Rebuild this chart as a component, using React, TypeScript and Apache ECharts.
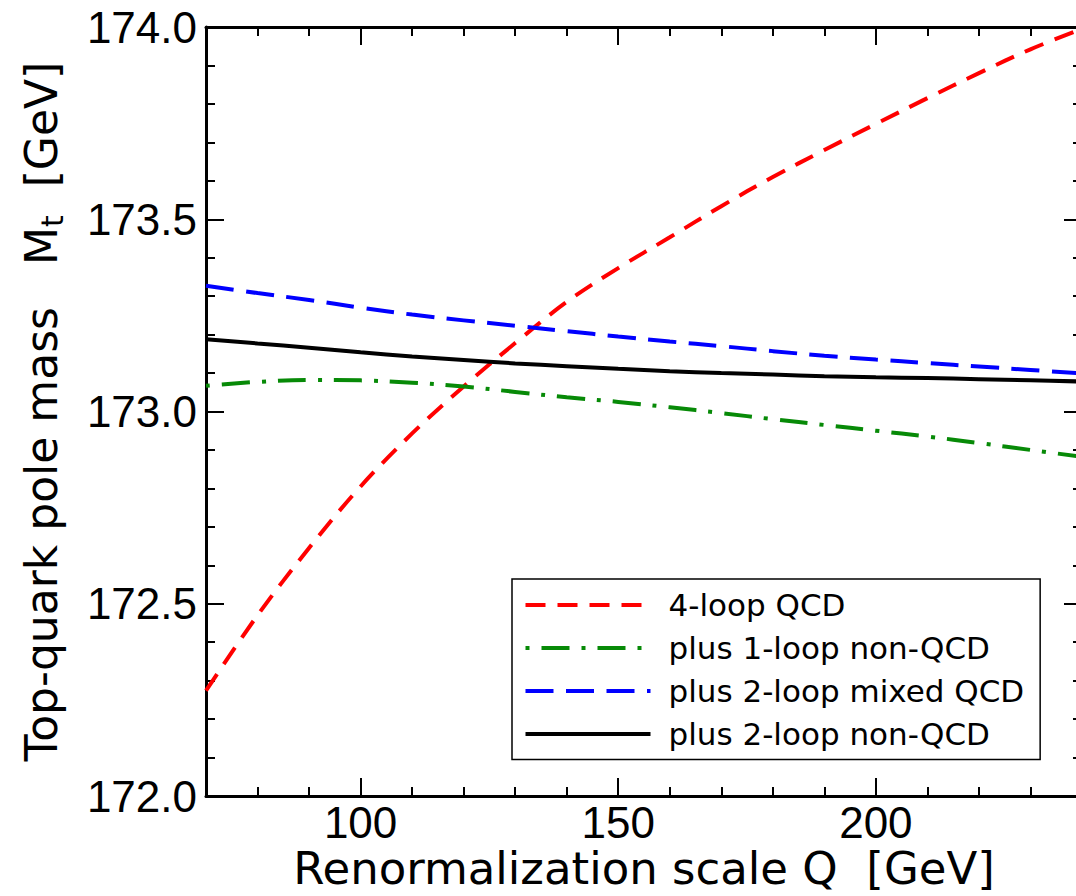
import React, { useEffect, useRef } from "react";
import * as echarts from "echarts";

// Renormalization scale Q [GeV]
const scaleQ = [70, 80, 90, 100, 110, 120, 130, 140, 150, 160, 170, 180, 190, 200, 210, 220, 230, 240];

// Top-quark pole mass M_t [GeV]
const fourLoopQCD = [172.274, 172.47, 172.645, 172.805, 172.943, 173.065, 173.178, 173.285, 173.373, 173.453, 173.534, 173.61, 173.68, 173.748, 173.815, 173.88, 173.942, 173.995];
const plus1LoopNonQCD = [173.067, 173.077, 173.082, 173.081, 173.075, 173.065, 173.051, 173.037, 173.025, 173.011, 172.996, 172.98, 172.965, 172.95, 172.935, 172.918, 172.9, 172.882];
const plus2LoopMixedQCD = [173.327, 173.308, 173.29, 173.27, 173.252, 173.237, 173.223, 173.209, 173.195, 173.182, 173.17, 173.157, 173.145, 173.135, 173.126, 173.117, 173.108, 173.099];
const plus2LoopNonQCD = [173.188, 173.177, 173.166, 173.154, 173.143, 173.134, 173.125, 173.118, 173.111, 173.105, 173.1, 173.096, 173.092, 173.089, 173.087, 173.084, 173.081, 173.078];

const seriesNames = ["4-loop QCD", "plus 1-loop non-QCD", "plus 2-loop mixed QCD", "plus 2-loop non-QCD"];
const majorQTicks = [100, 150, 200];

const TICK_FONT = "'Liberation Sans', Arial, Helvetica, sans-serif";
const TITLE_FONT = "'DejaVu Sans', sans-serif";

export default function App() {
  const ref = useRef<HTMLDivElement>(null);

  useEffect(() => {
    if (!ref.current) return;
    const chart = echarts.init(ref.current, null, { renderer: "svg" });

    const axisLine = { show: true, onZero: false, lineStyle: { color: "#000", width: 3 } };
    const minorX = (position: "bottom" | "top", extra: any = {}) => ({
      type: "value",
      position,
      min: 70,
      max: 240,
      interval: 10,
      axisLine,
      axisTick: { show: true, inside: true, length: 9, lineStyle: { color: "#000", width: 2 } },
      axisLabel: { show: false },
      splitLine: { show: false },
      ...extra,
    });
    const majorX = (position: "bottom" | "top", showLabel: boolean) => ({
      type: "value",
      position,
      min: 70,
      max: 240,
      axisLine: { show: false },
      axisTick: {
        show: true,
        inside: true,
        length: 18,
        customValues: majorQTicks,
        lineStyle: { color: "#000", width: 2 },
      },
      axisLabel: {
        show: showLabel,
        customValues: majorQTicks,
        fontSize: 44,
        fontFamily: TICK_FONT,
        color: "#000",
        margin: 4,
      },
      splitLine: { show: false },
    });
    const yAx = (position: "left" | "right", extra: any = {}) => ({
      type: "value",
      position,
      min: 172,
      max: 174,
      interval: 0.5,
      axisLine,
      axisTick: { show: true, inside: true, length: 18, lineStyle: { color: "#000", width: 2 } },
      minorTick: { show: true, splitNumber: 5, length: 9, lineStyle: { color: "#000", width: 2 } },
      axisLabel: { show: false },
      splitLine: { show: false },
      minorSplitLine: { show: false },
      ...extra,
    });

    const mk = (name: string, vals: number[], color: string, dash: any) => ({
      name,
      type: "line",
      xAxisIndex: 0,
      yAxisIndex: 0,
      data: scaleQ.map((q, i) => [q, vals[i]]),
      symbol: "none",
      showSymbol: false,
      smooth: 0.35,
      color,
      itemStyle: { color },
      lineStyle: { color, width: 4, type: dash },
    });

    chart.setOption({
      animation: false,
      backgroundColor: "#fff",
      grid: { left: 206, right: 2, top: 27, bottom: 100, containLabel: false },
      xAxis: [
        minorX("bottom", {
          name: "Renormalization scale Q  [GeV]",
          nameLocation: "middle",
          nameGap: 50,
          nameTextStyle: { fontSize: 45, fontFamily: TITLE_FONT, color: "#000" },
        }),
        majorX("bottom", true),
        minorX("top"),
        majorX("top", false),
      ],
      yAxis: [
        yAx("left", {
          axisLabel: {
            show: true,
            fontSize: 44,
            fontFamily: TICK_FONT,
            color: "#000",
            margin: 9,
            formatter: (v: number) => v.toFixed(1),
          },
          name: "{a|Top-quark pole mass   M}{b|t}{a|  [GeV]}",
          nameLocation: "middle",
          nameRotate: 90,
          nameGap: 142,
          nameTextStyle: {
            rich: {
              a: { fontSize: 44, lineHeight: 46, fontFamily: TITLE_FONT, color: "#000" },
              b: { fontSize: 30, lineHeight: 30, padding: [22, 0, 0, 0], fontFamily: TITLE_FONT, color: "#000" },
            },
          },
        }),
        yAx("right"),
      ],
      legend: {
        orient: "vertical",
        left: 512,
        top: 579,
        itemWidth: 125,
        itemHeight: 14,
        itemGap: 12,
        padding: [10.5, 16, 10, 11.5],
        backgroundColor: "#fff",
        borderColor: "#000",
        borderWidth: 1.5,
        borderRadius: 0,
        selectedMode: false,
        data: seriesNames,
        itemStyle: { opacity: 0 },
        lineStyle: { width: 4, opacity: 1 },
        textStyle: {
          fontFamily: TITLE_FONT,
          fontSize: 31,
          lineHeight: 31,
          color: "#000",
          padding: [0, 0, 0, 13],
        },
      },
      series: [
        mk(seriesNames[0], fourLoopQCD, "#ff0000", [20, 12]),
        mk(seriesNames[1], plus1LoopNonQCD, "#078a07", [4, 12, 28, 12]),
        mk(seriesNames[2], plus2LoopMixedQCD, "#0000ff", [28, 12.5]),
        mk(seriesNames[3], plus2LoopNonQCD, "#000000", "solid"),
      ],
    });

    return () => chart.dispose();
  }, []);

  return (
    <div style={{ position: "absolute", left: 0, top: 0, width: 1076, height: 896, overflow: "hidden", background: "#fff" }}>
      <div ref={ref} style={{ width: 1084, height: 896 }} />
    </div>
  );
}
